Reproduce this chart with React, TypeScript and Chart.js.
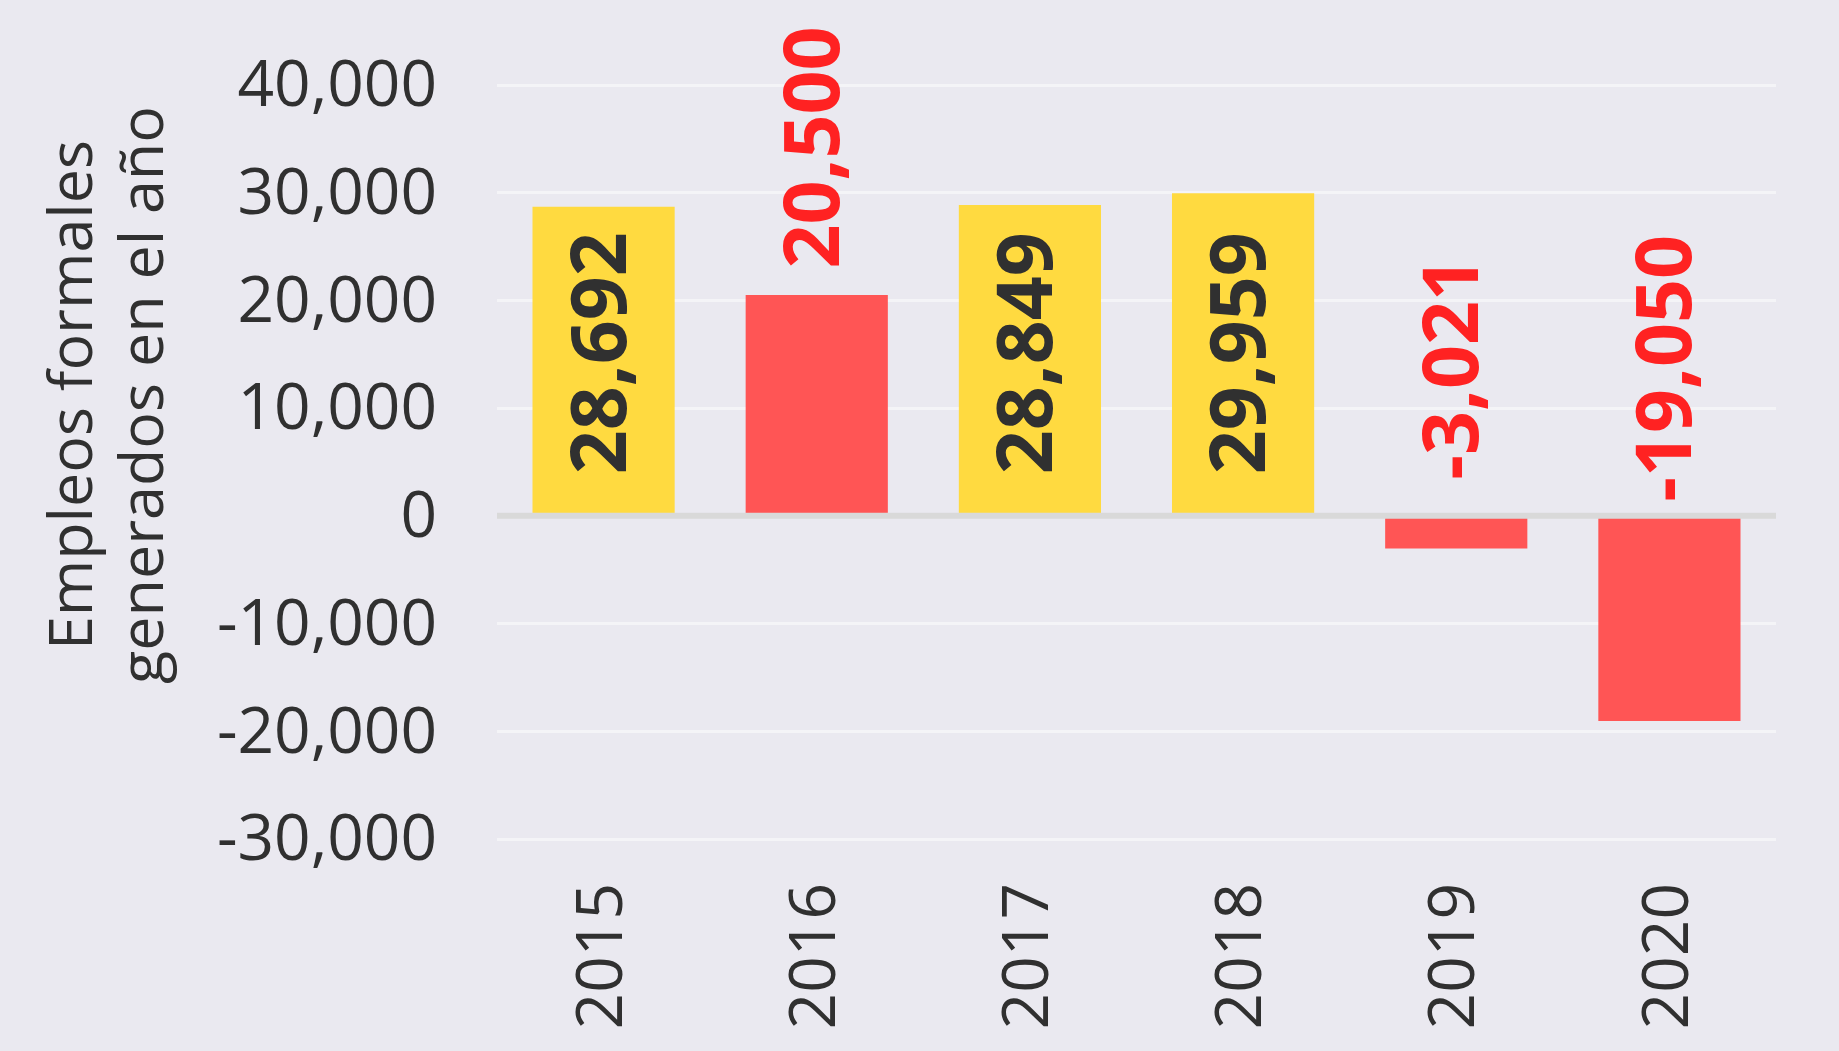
import React, { useEffect, useRef } from 'react';
import { Chart, registerables } from 'chart.js';

Chart.register(...registerables);

const years = ['2015', '2016', '2017', '2018', '2019', '2020'];
const empleos = [28692, 20500, 28849, 29959, -3021, -19050];
const alerta = [false, true, false, false, true, true];
const yTicks = [-30000, -20000, -10000, 0, 10000, 20000, 30000, 40000];
const yTitleLines = ['Empleos formales', 'generados en el año'];

const fmt = (v: number) => v.toLocaleString('en-US');

const BG = '#EAE9F0';
const DARK = '#303030';
const FONT = "'Open Sans', 'Noto Sans', sans-serif";

const overlayPlugin = {
  id: 'overlay',
  afterDatasetsDraw(chart: any) {
    const { ctx, chartArea, scales } = chart;
    const y = scales.y;
    ctx.save();
    // zero line on top of bars
    const y0 = y.getPixelForValue(0);
    ctx.strokeStyle = '#D9D9D9';
    ctx.lineWidth = 6;
    ctx.beginPath();
    ctx.moveTo(chartArea.left, y0);
    ctx.lineTo(chartArea.right, y0);
    ctx.stroke();

    // value labels
    const meta = chart.getDatasetMeta(0);
    ctx.font = `bold 77px ${FONT}`;
    ctx.textAlign = 'center';
    ctx.textBaseline = 'middle';
    meta.data.forEach((bar: any, i: number) => {
      const v = empleos[i];
      const cy = alerta[i]
        ? y.getPixelForValue(Math.max(v, 0) + 13700)
        : y.getPixelForValue(15100);
      ctx.save();
      ctx.translate(bar.x, cy);
      ctx.rotate(-Math.PI / 2);
      ctx.fillStyle = alerta[i] ? '#FF2222' : DARK;
      ctx.fillText(fmt(v), 0, 0);
      ctx.restore();
    });

    // y axis title (two lines)
    ctx.font = `61px ${FONT}`;
    ctx.fillStyle = DARK;
    ctx.textAlign = 'center';
    ctx.textBaseline = 'alphabetic';
    const baselines = [92, 163];
    yTitleLines.forEach((line, i) => {
      ctx.save();
      ctx.translate(baselines[i], 395);
      ctx.rotate(-Math.PI / 2);
      ctx.fillText(line, 0, 0);
      ctx.restore();
    });
    ctx.restore();
  },
};

export default function App() {
  const ref = useRef<HTMLCanvasElement>(null);
  useEffect(() => {
    const chart = new Chart(ref.current as HTMLCanvasElement, {
      type: 'bar',
      data: {
        labels: years,
        datasets: [
          {
            data: empleos,
            backgroundColor: alerta.map((a) => (a ? '#FF5555' : '#FFDA40')),
            borderWidth: 0,
            barPercentage: 0.667,
            categoryPercentage: 1,
          },
        ],
      },
      options: {
        responsive: false,
        animation: false,
        layout: { padding: { top: 85, right: 63, left: 0, bottom: 0 } },
        plugins: {
          legend: { display: false },
          tooltip: { enabled: false },
          title: { display: false },
        },
        scales: {
          x: {
            grid: { display: false },
            border: { display: false },
            ticks: {
              autoSkip: false,
              minRotation: 90,
              maxRotation: 90,
              padding: 36,
              color: DARK,
              font: { family: FONT, size: 64 },
            },
            afterFit: (s: any) => {
              s.height = 212;
              s.paddingLeft = 0;
              s.paddingRight = 0;
            },
          },
          y: {
            min: yTicks[0],
            max: yTicks[yTicks.length - 1],
            grid: { color: '#F4F4F7', lineWidth: 3, drawTicks: false },
            border: { display: false },
            afterBuildTicks: (s: any) => {
              s.ticks = yTicks.map((v) => ({ value: v }));
            },
            ticks: {
              padding: 60,
              labelOffset: 3,
              color: DARK,
              font: { family: FONT, size: 64 },
              callback: (v: any) => fmt(Number(v)),
            },
            afterFit: (s: any) => {
              s.width = 497;
              s.paddingTop = 0;
              s.paddingBottom = 0;
            },
          },
        },
      },
      plugins: [overlayPlugin],
    } as any);
    return () => chart.destroy();
  }, []);

  return (
    <div
      style={{
        position: 'absolute',
        left: 0,
        top: 0,
        width: 1839,
        height: 1051,
        background: BG,
      }}
    >
      <canvas ref={ref} width={1839} height={1051} style={{ display: 'block' }} />
    </div>
  );
}
